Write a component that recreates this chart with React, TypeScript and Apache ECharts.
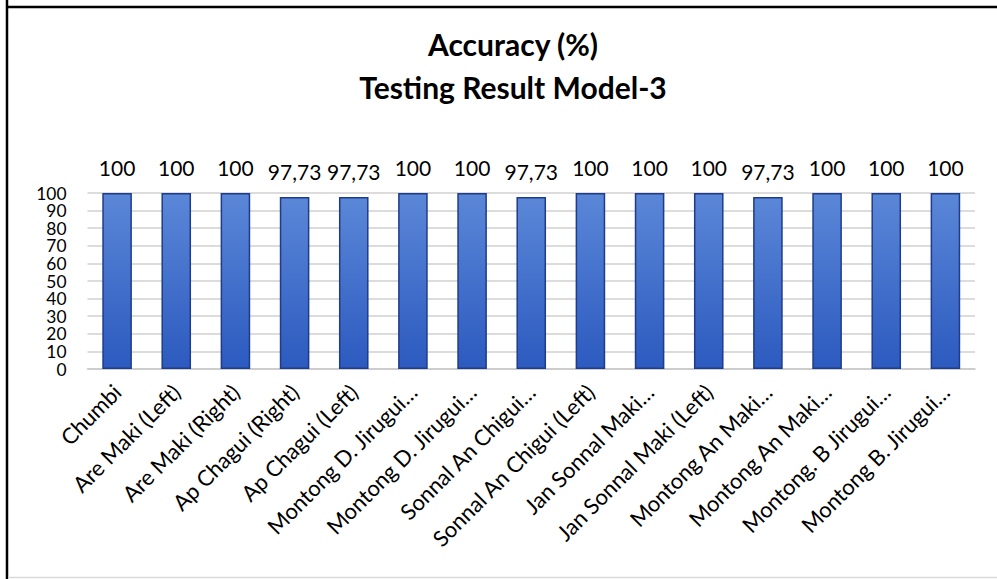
import React, { useEffect, useRef } from "react";
import * as echarts from "echarts";

const categories = [
  "Chumbi",
  "Are Maki (Left)",
  "Are Maki (Right)",
  "Ap Chagui (Right)",
  "Ap Chagui (Left)",
  "Montong D. Jirugui…",
  "Montong D. Jirugui…",
  "Sonnal An Chigui…",
  "Sonnal An Chigui (Left)",
  "Jan Sonnal Maki…",
  "Jan Sonnal Maki (Left)",
  "Montong An Maki…",
  "Montong An Maki…",
  "Montong. B Jirugui…",
  "Montong B. Jirugui…",
];
const accuracy = [100, 100, 100, 97.73, 97.73, 100, 100, 97.73, 100, 100, 100, 97.73, 100, 100, 100];
const titleLines = ["Accuracy (%)", "Testing Result Model-3"];

const FONT = "Lato, 'Open Sans', sans-serif";

export default function App() {
  const ref = useRef<HTMLDivElement>(null);
  useEffect(() => {
    if (!ref.current) return;
    const chart = echarts.init(ref.current, undefined, { renderer: "svg" });
    chart.setOption({
      animation: false,
      backgroundColor: "#ffffff",
      title: {
        text: titleLines.join("\n"),
        left: 508,
        top: 17,
        textAlign: "center",
        textStyle: {
          fontFamily: FONT,
          fontSize: 30,
          fontWeight: "bold",
          color: "#000",
          lineHeight: 43,
        },
      },
      graphic: [
        { type: "line", shape: { x1: 7, y1: 0, x2: 7, y2: 579 }, style: { stroke: "#000", lineWidth: 2.5 } },
        { type: "line", shape: { x1: 6, y1: 7, x2: 997, y2: 7 }, style: { stroke: "#000", lineWidth: 2.5 } },
        { type: "line", shape: { x1: 8, y1: 577.5, x2: 997, y2: 577.5 }, style: { stroke: "#d9d9d9", lineWidth: 1.5 } },
      ],
      grid: { left: 87.5, right: 22, top: 193, bottom: 210, containLabel: false },
      xAxis: {
        type: "category",
        data: categories,
        axisLine: { show: true, lineStyle: { color: "#c8c8c8", width: 1.5 } },
        axisTick: { show: false },
        axisLabel: {
          rotate: 45,
          interval: 0,
          margin: 19,
          fontFamily: FONT,
          fontSize: 22,
          color: "#000",
        },
      },
      yAxis: {
        type: "value",
        min: 0,
        max: 100,
        interval: 10,
        axisLine: { show: false },
        axisTick: { show: false },
        splitLine: { lineStyle: { color: "#d0d0d0", width: 1.5 } },
        axisLabel: {
          margin: 21,
          fontFamily: FONT,
          fontSize: 17.4,
          lineHeight: 17,
          color: "#000",
          showMinLabel: true,
          showMaxLabel: true,
          hideOverlap: false,
        },
      },
      series: [
        {
          type: "bar",
          data: accuracy,
          barWidth: "50%",
          itemStyle: {
            color: new echarts.graphic.LinearGradient(0, 0, 0, 1, [
              { offset: 0, color: "#5b87d8" },
              { offset: 1, color: "#2c5abf" },
            ]),
            borderColor: "#1f3c8a",
            borderWidth: 1.5,
          },
          label: {
            show: true,
            position: "top",
            distance: 15,
            fontFamily: FONT,
            fontSize: 21,
            color: "#000",
            formatter: (p: any) => String(p.value).replace(".", ","),
          },
        },
      ],
    });
    return () => chart.dispose();
  }, []);
  return (
    <div
      ref={ref}
      style={{ position: "absolute", left: 0, top: 0, width: 997, height: 579 }}
    />
  );
}
